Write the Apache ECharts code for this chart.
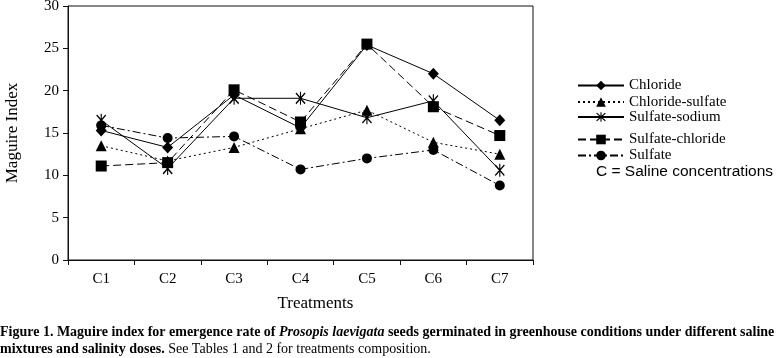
<!DOCTYPE html>
<html>
<head>
<meta charset="utf-8">
<script src="https://cdn.jsdelivr.net/npm/echarts@6/dist/echarts.min.js"></script>
<style>
html,body{margin:0;padding:0;background:#fff;}
#chart{width:784px;height:358px;}
</style>
</head>
<body>
<div id="chart"></div>
<script>
var categories = ['C1', 'C2', 'C3', 'C4', 'C5', 'C6', 'C7'];
var chloride = [15.3, 13.3, 19.5, 15.6, 25.4, 22.0, 16.5];
var chlorideSulfate = [13.5, 11.7, 13.3, 15.5, 17.7, 13.9, 12.5];
var sulfateSodium = [16.5, 10.8, 19.1, 19.1, 16.8, 18.8, 10.6];
var sulfateChloride = [11.1, 11.5, 20.1, 16.3, 25.5, 18.1, 14.7];
var sulfate = [15.9, 14.4, 14.6, 10.7, 12.0, 13.0, 8.8];
var yTicks = [0, 5, 10, 15, 20, 25, 30];

var serif = '"Liberation Serif", "Times New Roman", serif';
var asterisk = 'path://M45,0H55V100H45Z M5,13L13,5L95,87L87,95Z M87,5L95,13L13,95L5,87Z';

function mkSeries(name, data, symbol, size, dash) {
  return {
    name: name, type: 'line', data: data,
    symbol: symbol, symbolSize: size,
    lineStyle: { color: '#000', width: 1, type: dash },
    itemStyle: { color: '#000', borderWidth: 0 },
    z: 3
  };
}

var series = [
  mkSeries('Chloride', chloride, 'diamond', [11, 12], 'solid'),
  mkSeries('Chloride-sulfate', chlorideSulfate, 'triangle', [11, 11], [2, 3]),
  mkSeries('Sulfate-sodium', sulfateSodium, asterisk, [10, 13], 'solid'),
  mkSeries('Sulfate-chloride', sulfateChloride, 'rect', [11, 11], [8, 4]),
  mkSeries('Sulfate', sulfate, 'circle', [10, 10], [8, 3, 2, 3])
];

var legendTops = [78, 94.5, 109.5, 132, 148];
var legends = series.map(function (s, i) {
  return {
    data: [s.name], orient: 'vertical', left: 577, top: legendTops[i],
    padding: 0, itemWidth: 46, itemHeight: 12,
    textStyle: { fontFamily: serif, fontSize: 15, color: '#000' },
    selectedMode: false
  };
});

var chart = echarts.init(document.getElementById('chart'));
chart.setOption({
  animation: false,
  backgroundColor: '#fff',
  grid: { left: 68, right: 251, top: 6, bottom: 98, containLabel: false, outerBoundsMode: 'none', show: true, borderColor: '#111', borderWidth: 1, backgroundColor: 'transparent' },
  legend: legends,
  xAxis: {
    type: 'category', data: categories, boundaryGap: true,
    axisLine: { lineStyle: { color: '#111', width: 1 } },
    axisTick: { show: true, length: 5, inside: false, lineStyle: { color: '#111' } },
    axisLabel: { fontFamily: serif, fontSize: 15, color: '#000', margin: 12 },
    name: 'Treatments', nameLocation: 'middle', nameGap: 35,
    nameTextStyle: { fontFamily: serif, fontSize: 17, color: '#000', padding: [0, 0, 0, 30] }
  },
  yAxis: {
    type: 'value', min: yTicks[0], max: yTicks[yTicks.length - 1], interval: 5,
    axisLine: { show: true, lineStyle: { color: '#111', width: 1 } },
    axisTick: { show: true, length: 5, lineStyle: { color: '#111' } },
    splitLine: { show: false },
    axisLabel: { fontFamily: serif, fontSize: 15, color: '#000', margin: 9 },
    name: 'Maguire Index', nameLocation: 'middle', nameGap: 47, nameRotate: 90,
    nameTextStyle: { fontFamily: serif, fontSize: 17, color: '#000' }
  },
  series: series,
  graphic: [
    {
      type: 'text', left: 596, top: 164,
      style: { text: 'C = Saline concentrations', font: '15.5px "Liberation Sans", Arial, sans-serif', fill: '#000' }
    },
    {
      type: 'text', left: 0, top: 324,
      style: {
        text: '{b|Figure 1. Maguire index for emergence rate of }{bi|Prosopis laevigata}{b| seeds germinated in greenhouse conditions under different saline}\n{b|mixtures and salinity doses.}{r| See Tables 1 and 2 for treatments composition.}',
        fill: '#000',
        lineHeight: 17,
        rich: {
          b: { fontFamily: serif, fontWeight: 'bold', fontSize: 14, lineHeight: 17, fill: '#000' },
          bi: { fontFamily: serif, fontWeight: 'bold', fontStyle: 'italic', fontSize: 14, lineHeight: 17, fill: '#000' },
          r: { fontFamily: serif, fontSize: 14, lineHeight: 17, fill: '#000' }
        }
      }
    }
  ]
});
</script>
</body>
</html>
